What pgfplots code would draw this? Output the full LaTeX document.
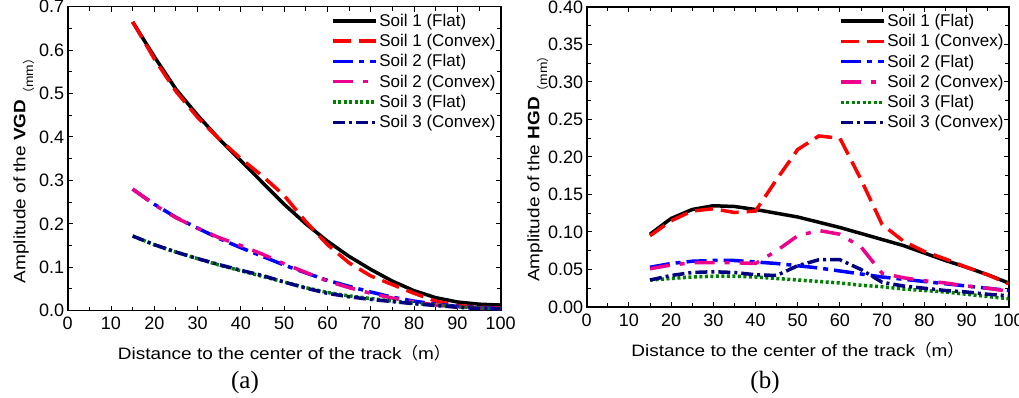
\documentclass[border=0pt]{standalone}
\usepackage{pgfplots}
\pgfplotsset{compat=1.18}
\usepackage{fontspec}
\setmainfont{Liberation Sans}
\newfontfamily\widefont{Liberation Sans}[FakeStretch=1.15]
\newfontfamily\cjk{Noto Sans CJK SC}
\newfontfamily\capfont{Liberation Serif}
\definecolor{cgreen}{RGB}{0,128,0}
\definecolor{cnavy}{RGB}{0,0,128}
\pgfplotsset{
  mystyle/.style={
    scale only axis,
    xmin=0, xmax=100,
    xtick={0,10,...,100},
    minor x tick num=1,
    tick align=inside,
    major tick length=5bp, minor tick length=4bp,
    tick style={line width=1bp, black},
    axis line style={line width=1.6bp},
    /pgf/number format/assume math mode=true,
    tick label style={font=\fontsize{18bp}{20bp}\selectfont},
    xticklabel style={yshift=-3bp},
    label style={font=\widefont\fontsize{16.5bp}{19bp}\selectfont},
    xlabel={Distance to the center of the track{\cjk （}m{\cjk ）}},
    xlabel style={yshift=-9bp},
    legend style={draw=none, fill=none, at={(1,1)}, anchor=north east,
      xshift=-2bp, yshift=-4bp, font=\fontsize{17bp}{19bp}\selectfont,
      row sep=2.5bp, inner sep=1bp, cells={anchor=west}},
    legend image code/.code={\draw[##1] (0bp,0bp) -- (43bp,0bp);},
    legend cell align=left,
  },
  s1f/.style={black, line width=3.5bp},
  s1c/.style={red, line width=3.5bp, dash pattern=on 18bp off 8bp},
  s2f/.style={blue, line width=3.5bp, dash pattern=on 20bp off 6bp on 5bp off 6bp},
  s2c/.style={magenta, line width=3.5bp, dash pattern=on 20bp off 10bp on 5bp off 10bp},
  s3f/.style={cgreen, line width=3.5bp, dash pattern=on 3bp off 2.5bp},
  s3c/.style={cnavy, line width=3.5bp, dash pattern=on 12bp off 4bp on 3bp off 4bp},
}
\begin{document}
\begin{tikzpicture}
\path[use as bounding box] (0,0) rectangle (1019bp,398bp);
\begin{axis}[mystyle,
  at={(67.7bp,87.3bp)}, anchor=south west,
  width=433bp, height=304bp,
  ymin=0, ymax=0.7, ytick={0,0.1,...,0.7}, minor y tick num=1,
  yticklabel style={/pgf/number format/.cd, fixed, fixed zerofill, precision=1},
  ylabel style={at={(ticklabel cs:0.47)}, yshift=-2bp},
  ylabel={Amplitude of the \textbf{VGD}\raisebox{-0.9ex}{\fontsize{12bp}{12bp}\selectfont{\cjk （}mm{\cjk ）}}},
]
\addplot[s1f] coordinates {(15,0.665)(20,0.585)(25,0.51)(30,0.45)(35,0.395)(40,0.345)(45,0.295)(50,0.245)(55,0.2)(60,0.16)(65,0.125)(70,0.095)(75,0.068)(80,0.046)(85,0.03)(90,0.02)(95,0.015)(100,0.013)};
\addlegendentry{Soil 1 (Flat)}
\addplot[s1c] coordinates {(15,0.665)(20,0.58)(25,0.505)(30,0.445)(35,0.395)(40,0.35)(45,0.31)(50,0.265)(55,0.205)(60,0.152)(65,0.11)(70,0.08)(75,0.06)(80,0.04)(85,0.022)(90,0.012)(95,0.008)(100,0.006)};
\addlegendentry{Soil 1 (Convex)}
\addplot[s2f] coordinates {(15,0.28)(20,0.245)(25,0.215)(30,0.19)(35,0.166)(40,0.145)(45,0.125)(50,0.105)(55,0.087)(60,0.07)(65,0.056)(70,0.043)(75,0.031)(80,0.022)(85,0.015)(90,0.01)(95,0.007)(100,0.005)};
\addlegendentry{Soil 2 (Flat)}
\addplot[s2c] coordinates {(15,0.28)(20,0.244)(25,0.214)(30,0.19)(35,0.168)(40,0.15)(45,0.13)(50,0.108)(55,0.088)(60,0.068)(65,0.053)(70,0.04)(75,0.029)(80,0.02)(85,0.013)(90,0.008)(95,0.006)(100,0.004)};
\addlegendentry{Soil 2 (Convex)}
\addplot[s3f] coordinates {(15,0.172)(20,0.152)(25,0.135)(30,0.12)(35,0.105)(40,0.092)(45,0.079)(50,0.066)(55,0.053)(60,0.042)(65,0.034)(70,0.028)(75,0.022)(80,0.017)(85,0.013)(90,0.009)(95,0.006)(100,0.004)};
\addlegendentry{Soil 3 (Flat)}
\addplot[s3c] coordinates {(15,0.172)(20,0.152)(25,0.135)(30,0.12)(35,0.106)(40,0.093)(45,0.081)(50,0.066)(55,0.052)(60,0.04)(65,0.032)(70,0.026)(75,0.021)(80,0.016)(85,0.012)(90,0.008)(95,0.005)(100,0.004)};
\addlegendentry{Soil 3 (Convex)}
\end{axis}
\begin{axis}[mystyle,
  at={(586.7bp,91bp)}, anchor=south west,
  width=422bp, height=300bp,
  ymin=0, ymax=0.4, ytick={0,0.05,...,0.4}, minor y tick num=1,
  yticklabel style={/pgf/number format/.cd, fixed, fixed zerofill, precision=2},
  ylabel style={at={(ticklabel cs:0.47)}, yshift=-7bp},
  ylabel={Amplitude of the \textbf{HGD}\raisebox{-0.9ex}{\fontsize{12bp}{12bp}\selectfont{\cjk （}mm{\cjk ）}}},
]
\addplot[s1f] coordinates {(15,0.097)(20,0.118)(25,0.13)(30,0.135)(35,0.134)(40,0.13)(45,0.125)(50,0.12)(55,0.113)(60,0.106)(65,0.098)(70,0.09)(75,0.082)(80,0.072)(85,0.062)(90,0.053)(95,0.043)(100,0.032)};
\addlegendentry{Soil 1 (Flat)}
\addplot[s1c] coordinates {(15,0.095)(20,0.115)(25,0.128)(30,0.131)(35,0.126)(40,0.128)(45,0.17)(50,0.21)(55,0.228)(60,0.225)(65,0.17)(70,0.11)(75,0.088)(80,0.074)(85,0.064)(90,0.053)(95,0.043)(100,0.031)};
\addlegendentry{Soil 1 (Convex)}
\addplot[s2f] coordinates {(15,0.053)(20,0.058)(25,0.061)(30,0.062)(35,0.062)(40,0.06)(45,0.058)(50,0.055)(55,0.052)(60,0.048)(65,0.044)(70,0.04)(75,0.037)(80,0.034)(85,0.031)(90,0.028)(95,0.025)(100,0.022)};
\addlegendentry{Soil 2 (Flat)}
\addplot[s2c] coordinates {(15,0.051)(20,0.056)(25,0.059)(30,0.059)(35,0.059)(40,0.058)(45,0.075)(50,0.095)(55,0.102)(60,0.097)(65,0.08)(70,0.045)(75,0.039)(80,0.035)(85,0.032)(90,0.028)(95,0.025)(100,0.021)};
\addlegendentry{Soil 2 (Convex)}
\addplot[s3f] coordinates {(15,0.036)(20,0.038)(25,0.04)(30,0.041)(35,0.041)(40,0.04)(45,0.038)(50,0.036)(55,0.034)(60,0.032)(65,0.029)(70,0.027)(75,0.024)(80,0.022)(85,0.02)(90,0.017)(95,0.014)(100,0.011)};
\addlegendentry{Soil 3 (Flat)}
\addplot[s3c] coordinates {(15,0.036)(20,0.042)(25,0.046)(30,0.047)(35,0.046)(40,0.043)(45,0.042)(50,0.055)(55,0.063)(60,0.063)(65,0.05)(70,0.033)(75,0.028)(80,0.025)(85,0.022)(90,0.02)(95,0.017)(100,0.015)};
\addlegendentry{Soil 3 (Convex)}
\end{axis}
\node[font=\capfont\fontsize{25bp}{28bp}\selectfont] at (245bp,16bp) {(a)};
\node[font=\capfont\fontsize{25bp}{28bp}\selectfont] at (765bp,16bp) {(b)};
\end{tikzpicture}
\end{document}
